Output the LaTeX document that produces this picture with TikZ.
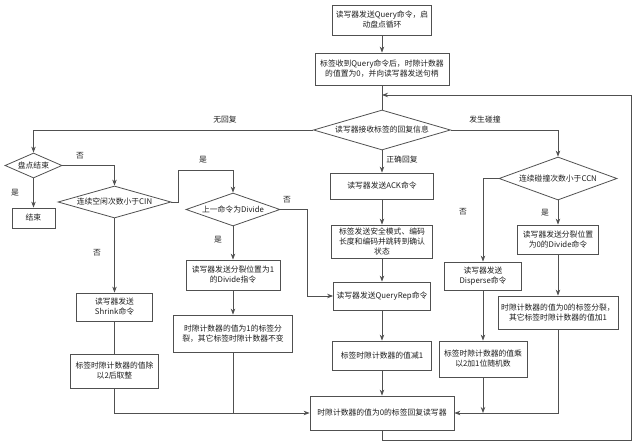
\documentclass[tikz,border=0pt]{standalone}
\usepackage{fontspec}
\setmainfont{Noto Sans CJK SC}
\definecolor{LineGray}{RGB}{80, 80, 80}
\definecolor{TextGray}{RGB}{30, 30, 30}
\usetikzlibrary{arrows.meta, positioning, shapes.geometric}

\begin{document}
\begin{tikzpicture}[x=1pt, y=-1pt, >={Stealth[length=6pt, width=4.5pt]},
    box/.style={draw=LineGray, line width=0.8pt, align=center, inner sep=1pt,
        text=TextGray, font=\fontsize{7.8}{10}\selectfont},
    choice/.style={draw=LineGray, line width=0.8pt, diamond, inner sep=0pt,
        text=TextGray, font=\fontsize{7.8}{10}\selectfont},
    lbl/.style={text=TextGray, font=\fontsize{7.8}{10}\selectfont},
    flow/.style={draw=LineGray, line width=0.8pt}]
    \useasboundingbox (0,0) rectangle (638,447);
    % Main column
    \node[box, minimum width=99pt, minimum height=30pt] (start) at (382,20)
        {读写器发送Query命令，启\\动盘点循环};
    \node[box, minimum width=134pt, minimum height=32pt] (recv) at (382,69)
        {标签收到Query命令后，时隙计数器\\的值置为0，并向读写器发送句柄};
    \node[choice, aspect=3.4, minimum width=137pt, minimum height=40pt] (reply) at (382,130)
        {读写器接收标签的回复信息};
    \node[box, minimum width=103pt, minimum height=26pt] (ack) at (382,186) {读写器发送ACK命令};
    \node[box, minimum width=101pt, minimum height=33pt] (mode) at (382,241.5)
        {标签发送安全模式、编码\\长度和编码并跳转到确认\\状态};
    \node[box, minimum width=97pt, minimum height=28pt] (qrep) at (382,296) {读写器发送QueryRep命令};
    \node[box, minimum width=99pt, minimum height=29pt] (dec) at (382,355.5) {标签时隙计数器的值减1};
    \node[box, minimum width=144pt, minimum height=34pt] (answer) at (382,413)
        {时隙计数器的值为0的标签回复读写器};
    \coordinate (loopin) at (382,95);
    \coordinate (loopright) at (631,95);
    % Idle branch
    \node[choice, aspect=2.28, minimum width=57pt, minimum height=25pt] (stopq) at (33.5,165.5) {盘点结束};
    \node[box, minimum width=43pt, minimum height=20pt] (stop) at (33.5,218) {结束};
    \node[choice, aspect=3.5, minimum width=113pt, minimum height=32pt] (cin) at (114.5,202)
        {连续空闲次数小于CIN};
    \node[box, minimum width=76pt, minimum height=28pt] (shrink) at (114.5,307) {读写器发送\\Shrink命令};
    \node[box, minimum width=88pt, minimum height=34pt] (halve) at (114.5,371)
        {标签时隙计数器的值除\\以2后取整};
    \node[choice, aspect=2.85, minimum width=94pt, minimum height=33pt] (divq) at (233,209.5)
        {上一命令为Divide};
    \node[box, minimum width=94pt, minimum height=30pt] (divone) at (233,275)
        {读写器发送分裂位置为1\\的Divide指令};
    \node[box, minimum width=119pt, minimum height=37pt] (splitone) at (233,333.5)
        {时隙计数器的值为1的标签分\\裂，其它标签时隙计数器不变};
    % Collision branch
    \node[choice, aspect=2.74, minimum width=118pt, minimum height=43pt] (ccn) at (558,178.5)
        {连续碰撞次数小于CCN};
    \node[box, minimum width=81pt, minimum height=29pt] (divzero) at (558,239.5)
        {读写器发送分裂位置\\为0的Divide命令};
    \node[box, minimum width=120pt, minimum height=33pt] (splitzero) at (558,312.5)
        {时隙计数器的值为0的标签分裂，\\其它标签时隙计数器的值加1};
    \node[box, minimum width=77pt, minimum height=28pt] (disperse) at (483,276)
        {读写器发送\\Disperse命令};
    \node[box, minimum width=88pt, minimum height=36pt] (double) at (483,359)
        {标签时隙计数器的值乘\\以2加1位随机数};
    % Branch labels
    \node[lbl] (lnoreply) at (225,120) {无回复};
    \node[lbl] (lcollide) at (485,120) {发生碰撞};
    \node[lbl] (lcorrect) at (402,160) {正确回复};
    \node[lbl] (lstopno) at (80,156) {否};
    \node[lbl] (lstopyes) at (15,193) {是};
    \node[lbl] (lcinyes) at (203,160) {是};
    \node[lbl] (lcinno) at (97,253) {否};
    \node[lbl] (ldivno) at (287,200) {否};
    \node[lbl] (ldivyes) at (218,240) {是};
    \node[lbl] (lccnyes) at (545,213) {是};
    \node[lbl] (lccnno) at (463,212) {否};
    % Connectors
    \draw[flow, ->] (start) -- (recv);
    \draw[flow] (recv) -- (reply);
    \draw[flow, ->] (reply.west) -| (stopq.north);
    \draw[flow, ->] (reply.east) -| (ccn.north);
    \draw[flow, ->] (reply) -- (ack);
    \draw[flow, ->] (ack) -- (mode);
    \draw[flow, ->] (mode) -- (qrep);
    \draw[flow, ->] (qrep) -- (dec);
    \draw[flow, ->] (dec) -- (answer);
    \draw[flow, ->] (stopq) -- (stop);
    \draw[flow, ->] (stopq.east) -| (cin.north);
    \draw[flow, ->] (cin.east) -- ++(7,0) -- ++(0,-32) -| (divq.north);
    \draw[flow, ->] (cin) -- (shrink);
    \draw[flow] (shrink) -- (halve);
    \draw[flow, ->] (halve.south) |- (answer.west);
    \draw[flow, ->] (divq) -- (divone);
    \draw[flow, ->] (divq.east) -- ++(27,0) |- (qrep.west);
    \draw[flow, ->] (divone) -- (splitone);
    \draw[flow] (splitone.south) -- (splitone.south |- answer.west);
    \draw[flow, ->] (ccn) -- (divzero);
    \draw[flow, ->] (divzero) -- (splitzero);
    \draw[flow, ->] (splitzero.south) |- (answer.east);
    \draw[flow, ->] (ccn.west) -| (disperse.north);
    \draw[flow, ->] (disperse) -- (double);
    \draw[flow, ->] (double.south) -- (double.south |- answer.east);
    \draw[flow, ->] (answer.south) -- ++(0,10) -| (loopright) -- (loopin);
\end{tikzpicture}
\end{document}
